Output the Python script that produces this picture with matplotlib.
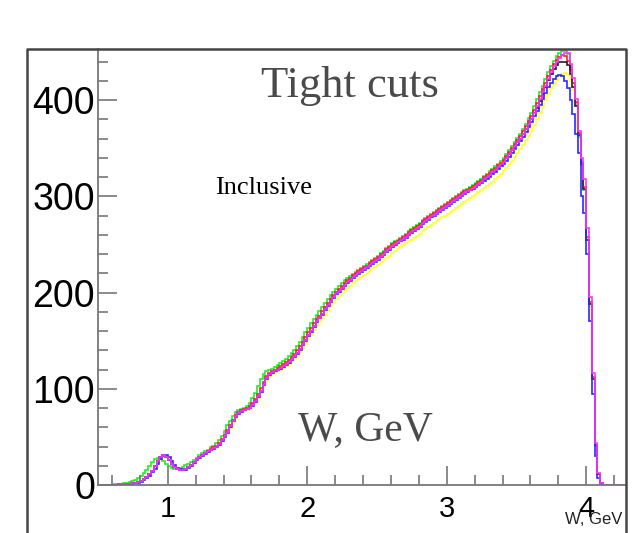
import numpy as np
import matplotlib
matplotlib.use("Agg")
import matplotlib.pyplot as plt
from matplotlib.lines import Line2D
from matplotlib.ticker import MultipleLocator

# W spectra, 0.02 GeV bins starting at W = 0.50 (ten bins per row)
bin_start = 0.50
bin_width = 0.02

w_green = [
    0, 0, 0, 0, 0, 1, 1, 1, 1, 2,
    2, 3, 4, 5, 7, 9, 12, 16, 20, 24,
    27, 28, 27, 25, 22, 20, 18, 17, 17, 18,
    19, 21, 22, 24, 26, 28, 31, 33, 35, 36,
    39, 41, 44, 47, 51, 56, 62, 67, 72, 76,
    78, 79, 80, 82, 85, 90, 96, 103, 110, 115,
    118, 120, 121, 123, 125, 127, 129, 131, 134, 137,
    140, 144, 149, 154, 159, 163, 168, 172, 177, 181,
    185, 189, 193, 197, 201, 204, 207, 210, 213, 215,
    217, 219, 221, 223, 225, 228, 230, 232, 234, 236,
    238, 241, 243, 246, 248, 251, 253, 255, 257, 259,
    261, 264, 266, 268, 270, 272, 275, 277, 279, 282,
    284, 286, 288, 290, 292, 294, 296, 298, 300, 302,
    304, 306, 308, 310, 312, 314, 316, 318, 321, 323,
    326, 328, 331, 334, 337, 340, 344, 348, 352, 356,
    361, 365, 370, 375, 381, 387, 394, 401, 408, 415,
    422, 429, 435, 441, 446, 449, 451, 451, 448, 434,
    418, 396, 362, 332, 306, 256, 188, 110, 41, 11,
    2, 0, 0, 0, 0, 0, 0, 0, 0, 0,
]

w_red = [
    0, 0, 0, 0, 0, 0, 0, 1, 1, 1,
    1, 1, 2, 2, 3, 4, 6, 8, 11, 15,
    20, 25, 29, 31, 29, 26, 22, 19, 17, 16,
    16, 17, 19, 21, 24, 27, 29, 31, 33, 35,
    37, 39, 41, 44, 48, 52, 57, 62, 68, 73,
    76, 78, 79, 80, 82, 85, 89, 95, 101, 107,
    113, 116, 118, 120, 122, 124, 126, 128, 130, 133,
    136, 140, 144, 149, 154, 159, 163, 168, 172, 176,
    181, 185, 189, 193, 197, 201, 204, 207, 210, 213,
    215, 218, 220, 222, 224, 226, 228, 231, 233, 235,
    237, 240, 242, 245, 247, 250, 252, 254, 256, 258,
    260, 263, 265, 267, 269, 271, 274, 276, 278, 281,
    283, 285, 287, 289, 291, 293, 295, 297, 299, 301,
    303, 305, 307, 309, 311, 313, 315, 317, 320, 322,
    324, 327, 329, 332, 335, 338, 342, 346, 350, 354,
    358, 363, 368, 373, 378, 383, 390, 397, 404, 411,
    418, 425, 431, 437, 442, 445, 447, 446, 441, 431,
    418, 398, 366, 336, 310, 258, 190, 112, 42, 11,
    2, 0, 0, 0, 0, 0, 0, 0, 0, 0,
]

w_yellow = [
    0, 0, 0, 0, 0, 0, 0, 1, 1, 1,
    1, 1, 2, 2, 3, 4, 5, 7, 10, 14,
    19, 24, 28, 30, 29, 26, 22, 19, 17, 16,
    15, 16, 18, 20, 23, 26, 28, 30, 32, 34,
    35, 37, 39, 42, 46, 50, 54, 59, 65, 70,
    73, 75, 77, 78, 79, 81, 85, 90, 96, 102,
    108, 112, 115, 117, 118, 120, 122, 124, 126, 129,
    131, 134, 138, 142, 147, 152, 156, 161, 165, 169,
    173, 177, 181, 185, 189, 193, 196, 199, 202, 205,
    207, 210, 212, 214, 216, 218, 220, 223, 225, 227,
    229, 232, 234, 236, 238, 241, 243, 245, 247, 249,
    251, 253, 255, 257, 259, 261, 264, 266, 268, 270,
    272, 274, 276, 278, 280, 282, 284, 286, 288, 290,
    292, 294, 296, 298, 300, 302, 304, 306, 309, 311,
    313, 315, 318, 320, 323, 326, 329, 333, 337, 341,
    345, 349, 353, 358, 363, 368, 374, 380, 386, 393,
    400, 406, 412, 417, 421, 425, 427, 428, 426, 420,
    410, 394, 364, 334, 308, 256, 188, 110, 42, 11,
    2, 0, 0, 0, 0, 0, 0, 0, 0, 0,
]

w_black = [
    0, 0, 0, 0, 0, 0, 0, 1, 1, 1,
    1, 1, 2, 2, 3, 4, 6, 8, 11, 15,
    20, 25, 29, 31, 29, 26, 22, 19, 17, 16,
    16, 17, 19, 21, 24, 27, 29, 31, 33, 35,
    36, 38, 40, 43, 47, 51, 55, 61, 67, 72,
    75, 77, 78, 79, 80, 83, 87, 92, 98, 105,
    111, 115, 117, 119, 120, 122, 124, 126, 128, 131,
    134, 137, 141, 146, 151, 156, 160, 165, 170, 174,
    178, 183, 187, 191, 195, 199, 202, 205, 208, 211,
    213, 216, 218, 220, 222, 224, 226, 229, 231, 233,
    235, 238, 240, 243, 245, 248, 250, 252, 254, 256,
    258, 261, 263, 265, 267, 269, 272, 274, 276, 279,
    281, 283, 285, 287, 289, 291, 293, 295, 297, 299,
    301, 303, 305, 307, 309, 311, 313, 315, 318, 320,
    322, 325, 327, 330, 333, 336, 340, 344, 348, 352,
    356, 360, 365, 370, 375, 380, 386, 392, 399, 406,
    414, 421, 427, 432, 436, 439, 440, 440, 436, 427,
    414, 394, 364, 334, 308, 255, 188, 110, 42, 11,
    2, 0, 0, 0, 0, 0, 0, 0, 0, 0,
]

w_blue = [
    0, 0, 0, 0, 0, 0, 0, 0, 1, 1,
    1, 1, 1, 2, 2, 3, 5, 7, 9, 13,
    17, 22, 27, 30, 31, 29, 25, 21, 18, 17,
    16, 16, 18, 20, 23, 26, 28, 30, 32, 34,
    36, 37, 39, 42, 46, 50, 54, 60, 66, 71,
    74, 76, 78, 79, 80, 82, 86, 91, 97, 104,
    110, 114, 116, 118, 120, 121, 123, 125, 127, 130,
    133, 136, 140, 145, 150, 155, 159, 164, 169, 173,
    177, 182, 186, 190, 194, 198, 201, 204, 207, 210,
    212, 215, 217, 219, 221, 223, 225, 228, 230, 232,
    234, 237, 239, 242, 244, 247, 249, 251, 253, 255,
    257, 260, 262, 264, 266, 268, 271, 273, 275, 278,
    280, 282, 284, 286, 288, 290, 292, 294, 296, 298,
    300, 302, 304, 306, 308, 310, 312, 314, 316, 318,
    320, 323, 325, 328, 331, 334, 337, 341, 345, 349,
    353, 357, 362, 367, 372, 377, 383, 389, 395, 401,
    407, 413, 418, 422, 425, 426, 425, 420, 412, 400,
    385, 365, 345, 300, 283, 240, 170, 95, 30, 7,
    1, 0, 0, 0, 0, 0, 0, 0, 0, 0,
]

w_magenta = [
    0, 0, 0, 0, 0, 0, 0, 1, 1, 1,
    1, 1, 2, 2, 3, 4, 6, 8, 11, 15,
    20, 25, 29, 31, 29, 26, 22, 19, 17, 16,
    16, 17, 19, 21, 24, 27, 29, 31, 33, 35,
    36, 38, 40, 43, 47, 51, 55, 61, 67, 72,
    75, 77, 78, 79, 80, 83, 87, 92, 98, 105,
    111, 115, 117, 119, 120, 122, 124, 126, 128, 131,
    134, 137, 141, 146, 151, 156, 160, 165, 170, 174,
    178, 183, 187, 191, 195, 199, 202, 205, 208, 211,
    213, 216, 218, 220, 222, 224, 226, 229, 231, 233,
    235, 238, 240, 243, 245, 248, 250, 252, 254, 256,
    258, 261, 263, 265, 267, 269, 272, 274, 276, 279,
    281, 283, 285, 287, 289, 291, 293, 295, 297, 299,
    301, 303, 305, 307, 309, 311, 313, 315, 318, 320,
    322, 325, 327, 330, 333, 336, 340, 344, 348, 352,
    356, 360, 365, 370, 375, 380, 387, 394, 401, 408,
    415, 422, 429, 435, 440, 444, 447, 449, 449, 437,
    423, 401, 368, 340, 318, 267, 195, 116, 44, 12,
    2, 0, 0, 0, 0, 0, 0, 0, 0, 0,
]

series = [
    (w_green, "#22ee22"),
    (w_red, "#ff2020"),
    (w_yellow, "#ffff33"),
    (w_black, "#202020"),
    (w_blue, "#2a2aff"),
    (w_magenta, "#ff33ff"),
]

W, H = 638, 533
fig = plt.figure(figsize=(W / 100, H / 100), dpi=100)

# pad frame around the whole canvas
fig.add_artist(Line2D([27 / W, 27 / W, 626 / W, 626 / W], [0, 1 - 49 / H, 1 - 49 / H, 0],
                      transform=fig.transFigure, color="#454545", lw=1.8, zorder=10))

ax = fig.add_axes([98 / W, 1 - 485 / H, (626 - 98) / W, (485 - 49) / H])
ax.patch.set_alpha(0)

for vals, col in series:
    vals = np.asarray(vals, dtype=float)
    edges = bin_start + bin_width * np.arange(len(vals) + 1)
    ax.stairs(vals, edges, color=col, lw=1.2, baseline=None)

ax.set_xlim(0.5, 4.285)
ax.set_ylim(0, 453)

for side in ("top", "right"):
    ax.spines[side].set_visible(False)
for side in ("left", "bottom"):
    ax.spines[side].set_color("#777777")
    ax.spines[side].set_linewidth(1.3)

ax.xaxis.set_major_locator(MultipleLocator(1))
ax.xaxis.set_minor_locator(MultipleLocator(0.2))
ax.yaxis.set_major_locator(MultipleLocator(100))
ax.yaxis.set_minor_locator(MultipleLocator(20))
ax.tick_params(which="both", direction="in", color="#777777", width=1.2)
ax.tick_params(which="major", length=14)
ax.tick_params(which="minor", length=7)
ax.tick_params(axis="y", which="major", labelsize=27, pad=2)
ax.tick_params(axis="x", which="major", labelsize=21, pad=7)
for lab in ax.get_xticklabels() + ax.get_yticklabels():
    lab.set_fontfamily("Liberation Sans")

fig.text(261 / W, 1 - 97 / H, "Tight cuts", family="Liberation Serif", fontsize=32,
         color="#4a4a4a", va="baseline")
fig.text(215 / W, 1 - 194 / H, "Inclusive", family="Liberation Serif", fontsize=19,
         color="black", va="baseline")
fig.text(298 / W, 1 - 440 / H, "W, GeV", family="Liberation Serif", fontsize=30,
         color="#4a4a4a", va="baseline")
fig.text(565 / W, 1 - 524 / H, "W, GeV", family="Liberation Sans", fontsize=12,
         color="#222222", va="baseline")

fig.savefig("out.png", dpi=100)
